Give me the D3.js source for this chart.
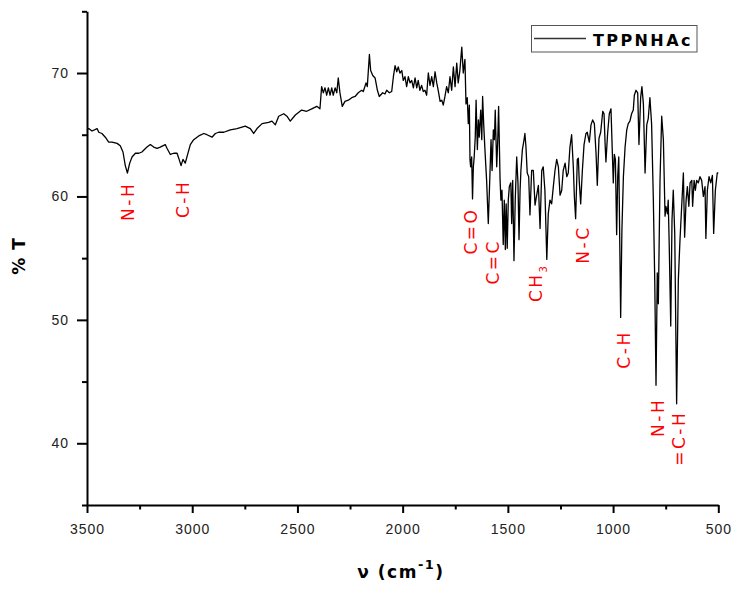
<!DOCTYPE html>
<html>
<head>
<meta charset="utf-8">
<script src="https://cdn.jsdelivr.net/npm/d3@7"></script>
<style>
  html, body { margin: 0; padding: 0; background: #fff; }
  svg { display: block; font-family: "DejaVu Sans", Verdana, sans-serif; }
</style>
</head>
<body>
<svg id="chart" width="735" height="589"></svg>
<script>
// FT-IR spectrum of TPPNHAc: wavenumber (cm-1) and transmittance (%T)
const wavenumber = [
  3500, 3492, 3476, 3452, 3444, 3429, 3413, 3397, 3381, 3357, 3342, 3329, 3318, 3308, 3297, 3286,
  3270, 3254, 3239, 3215, 3199, 3183, 3167, 3152, 3128, 3120, 3104, 3088, 3072, 3064, 3053, 3044,
  3033, 3025, 3009, 2993, 2969, 2945, 2930, 2906, 2890, 2874, 2850, 2819, 2787, 2748, 2724, 2708,
  2692, 2668, 2637, 2621, 2605, 2589, 2565, 2550, 2534, 2510, 2480, 2456, 2432, 2408, 2393, 2385,
  2377, 2369, 2361, 2353, 2345, 2337, 2330, 2321, 2313, 2306, 2298, 2287, 2274, 2258, 2242, 2226,
  2211, 2195, 2187, 2174, 2168, 2158, 2152, 2142, 2131, 2120, 2111, 2095, 2084, 2076, 2063, 2052,
  2044, 2036, 2028, 2021, 2013, 2004, 1997, 1989, 1981, 1973, 1965, 1957, 1949, 1941, 1933, 1926,
  1918, 1910, 1902, 1894, 1886, 1878, 1870, 1862, 1854, 1846, 1838, 1831, 1822, 1814, 1807, 1799,
  1791, 1783, 1775, 1767, 1759, 1751, 1743, 1736, 1728, 1719, 1712, 1704, 1699, 1693, 1688, 1683,
  1680, 1677, 1672, 1668, 1664, 1660, 1655, 1651, 1645, 1640, 1636, 1629, 1624, 1620, 1615, 1609,
  1601, 1593, 1585, 1580, 1575, 1569, 1564, 1560, 1553, 1548, 1544, 1537, 1533, 1528, 1522, 1517,
  1512, 1508, 1503, 1498, 1493, 1486, 1482, 1477, 1471, 1465, 1458, 1452, 1447, 1442, 1438, 1431,
  1423, 1419, 1414, 1408, 1401, 1395, 1387, 1379, 1371, 1363, 1355, 1347, 1339, 1332, 1324, 1315,
  1308, 1300, 1292, 1284, 1276, 1268, 1260, 1252, 1244, 1237, 1228, 1220, 1213, 1205, 1197, 1189,
  1184, 1178, 1170, 1165, 1161, 1154, 1146, 1138, 1129, 1123, 1113, 1105, 1097, 1089, 1081, 1075,
  1067, 1059, 1049, 1043, 1038, 1034, 1026, 1018, 1010, 1004, 999, 994, 989, 983, 978, 973,
  964, 958, 951, 943, 935, 928, 920, 912, 904, 899, 891, 883, 877, 869, 863, 856,
  848, 840, 833, 825, 817, 809, 802, 796, 790, 785, 777, 769, 761, 753, 749, 742,
  738, 733, 726, 720, 714, 707, 698, 690, 682, 674, 666, 660, 653, 647, 640, 634,
  626, 622, 615, 609, 603, 595, 587, 579, 571, 563, 559, 552, 544, 536, 528, 522,
  514, 505, 500
];
const transmittance = [
  65.4, 65.5, 65.3, 65.5, 65.2, 65.1, 64.8, 64.4, 64.4, 64.3, 64.1, 63.6, 62.5, 61.9, 62.7, 63.2,
  63.5, 63.5, 63.6, 64.0, 64.2, 64.0, 63.9, 64.0, 64.2, 63.9, 63.4, 63.5, 63.5, 63.1, 62.5, 63.0,
  62.7, 63.2, 64.2, 64.6, 64.9, 65.1, 65.0, 64.8, 65.1, 65.2, 65.2, 65.4, 65.5, 65.7, 65.5, 65.1,
  65.5, 65.9, 66.0, 66.1, 65.8, 66.5, 66.7, 66.5, 66.1, 66.6, 67.0, 66.9, 67.1, 67.3, 67.1, 68.9,
  68.4, 68.8, 68.2, 68.8, 68.2, 68.8, 68.2, 68.8, 68.4, 69.6, 68.4, 67.3, 67.7, 67.8, 68.0, 68.1,
  68.4, 68.6, 68.5, 69.2, 68.9, 71.5, 70.2, 69.8, 69.6, 68.6, 68.1, 68.4, 68.3, 68.6, 68.4, 68.5,
  69.7, 70.6, 70.1, 70.5, 70.0, 70.2, 69.4, 69.7, 68.9, 69.7, 69.2, 69.4, 68.8, 69.6, 68.8, 69.4,
  68.6, 69.0, 68.5, 68.6, 68.2, 70.0, 69.0, 69.7, 68.9, 70.1, 69.2, 68.6, 67.7, 67.8, 67.4, 68.1,
  68.9, 68.4, 69.7, 68.6, 70.5, 68.9, 70.8, 69.2, 70.2, 72.1, 70.0, 71.1, 67.5, 68.0, 65.9, 67.4,
  63.0, 62.4, 63.2, 59.8, 62.4, 63.2, 64.8, 67.8, 63.8, 66.2, 64.8, 67.0, 64.6, 68.1, 65.9, 63.8,
  61.3, 57.8, 61.9, 64.6, 62.1, 65.4, 64.6, 67.0, 62.4, 64.6, 67.3, 61.3, 59.7, 60.5, 56.1, 59.7,
  55.7, 59.4, 55.8, 59.7, 60.8, 61.1, 57.8, 61.3, 54.8, 59.7, 63.2, 61.1, 56.5, 60.5, 62.1, 63.8,
  64.6, 65.1, 64.0, 61.9, 61.6, 58.5, 62.1, 62.1, 59.3, 60.1, 60.9, 57.4, 62.1, 62.4, 60.5, 54.9,
  58.6, 59.7, 59.4, 60.8, 62.1, 63.0, 62.4, 60.1, 60.5, 62.1, 62.7, 61.6, 61.9, 64.0, 65.0, 62.4,
  60.0, 58.2, 63.0, 63.1, 61.3, 59.4, 62.1, 64.2, 65.1, 65.2, 64.4, 65.8, 66.2, 65.9, 63.5, 60.9,
  64.7, 65.2, 66.9, 66.7, 64.3, 62.8, 65.1, 66.7, 67.1, 63.8, 61.1, 63.4, 63.0, 56.9, 61.6, 63.2,
  50.2, 57.3, 61.6, 64.0, 65.4, 65.9, 66.1, 66.7, 67.0, 68.2, 68.6, 68.4, 64.2, 68.0, 68.9, 67.5,
  61.9, 65.8, 66.3, 68.0, 65.9, 60.0, 53.2, 44.7, 53.8, 51.3, 61.3, 66.5, 64.6, 58.4, 59.2, 58.6,
  59.7, 55.9, 49.5, 58.1, 60.5, 57.0, 43.2, 53.2, 56.5, 59.2, 61.9, 56.7, 59.7, 60.8, 59.2, 61.1,
  61.3, 59.2, 61.3, 60.5, 61.3, 61.1, 61.6, 61.3, 60.0, 60.8, 56.6, 60.5, 61.6, 61.1, 61.7, 57.0,
  60.5, 61.9, 61.9
];

// Axis ticks
const xMajorTicks = [3500, 3000, 2500, 2000, 1500, 1000, 500];
const xMinorTicks = [3250, 2750, 2250, 1750, 1250, 750];
const yMajorTicks = [40, 50, 60, 70];
const yMinorTicks = [35, 45, 55, 65, 75];

// Band assignments: text, subscript, wavenumber and %T of the label centre
const bandNames = ["N-H", "C-H", "C=O", "C=C", "CH", "N-C", "C-H", "N-H", "=C-H"];
const bandSubs = ["", "", "", "", "3", "", "", "", ""];
const bandWavenumbers = [3305, 3044, 1677, 1571, 1366, 1145, 948, 787, 687];
const bandLevels = [59.6, 59.8, 57.2, 54.7, 53.0, 56.1, 47.6, 42.1, 40.4];

const seriesName = "TPPNHAc";

const svg = d3.select("#chart");

const x = d3.scaleLinear().domain([3500, 500]).range([87, 718.3]);
const y = d3.scaleLinear().domain([35, 75]).range([505, 11.3]);

const tickFont = (g) => g.selectAll("text")
  .attr("fill", "#222")
  .style("font-size", "14px")
  .style("letter-spacing", "1px");

// Y axis
const yAxis = svg.append("g").attr("transform", `translate(${x(3500)},0)`);
yAxis.call(d3.axisLeft(y).tickValues(yMajorTicks).tickSize(10).tickSizeOuter(0).tickPadding(8)
    .tickFormat(d3.format("d")))
  .call(tickFont);
yAxis.append("g").call(d3.axisLeft(y).tickValues(yMinorTicks).tickSize(5).tickSizeOuter(0).tickFormat(""))
  .select(".domain").remove();

// X axis
const xAxis = svg.append("g").attr("transform", `translate(0,${y(35)})`);
xAxis.call(d3.axisBottom(x).tickValues(xMajorTicks).tickSize(8).tickSizeOuter(0).tickPadding(11)
    .tickFormat(d3.format("d")))
  .call(tickFont);
xAxis.append("g").call(d3.axisBottom(x).tickValues(xMinorTicks).tickSize(4.5).tickSizeOuter(0).tickFormat(""))
  .select(".domain").remove();

svg.selectAll(".domain").attr("stroke", "#000").attr("stroke-width", 2);
svg.selectAll(".tick line").attr("stroke", "#000").attr("stroke-width", 2);

// Spectrum trace
const pts = wavenumber.map((w, i) => [w, transmittance[i]]);
svg.append("path")
  .datum(pts)
  .attr("fill", "none")
  .attr("stroke", "#000")
  .attr("stroke-width", 1.3)
  .attr("stroke-linejoin", "round")
  .attr("d", d3.line().x(d => x(d[0])).y(d => y(d[1])));

// Band labels (rotated, red)
const labels = svg.append("g").attr("fill", "#ff0000")
  .style("font-size", "17px").style("letter-spacing", "2.5px");
bandNames.forEach((name, i) => {
  const cx = x(bandWavenumbers[i]);
  const cy = y(bandLevels[i]);
  const t = labels.append("text")
    .attr("transform", `translate(${cx},${cy}) rotate(-90)`)
    .attr("text-anchor", "middle")
    .attr("dy", "0.36em");
  t.append("tspan").text(name);
  if (bandSubs[i]) {
    t.append("tspan").attr("dy", "0.45em").style("font-size", "10px").text(bandSubs[i]);
  }
});

// Axis titles
svg.append("text")
  .attr("transform", `translate(25,256) rotate(-90)`)
  .attr("text-anchor", "middle")
  .style("font-size", "17px").style("font-weight", "bold").style("letter-spacing", "1px")
  .attr("fill", "#000")
  .text("% T");

const xt = svg.append("text")
  .attr("x", 401).attr("y", 578)
  .attr("text-anchor", "middle")
  .style("font-size", "17px").style("font-weight", "bold").style("letter-spacing", "1.5px")
  .attr("fill", "#000");
xt.append("tspan").text("ν (cm");
xt.append("tspan").attr("dy", -9).style("font-size", "13px").text("-1");
xt.append("tspan").attr("dy", 9).text(")");

// Legend
const lg = svg.append("g");
lg.append("rect").attr("x", 531.5).attr("y", 25.5).attr("width", 165.5).attr("height", 26.5)
  .attr("fill", "#fff").attr("stroke", "#555").attr("stroke-width", 1);
lg.append("line").attr("x1", 534).attr("x2", 586).attr("y1", 38.5).attr("y2", 38.5)
  .attr("stroke", "#333").attr("stroke-width", 1.3);
lg.append("text").attr("x", 593).attr("y", 45.5)
  .style("font-size", "16px").style("font-weight", "bold").style("letter-spacing", "2.4px")
  .attr("fill", "#000")
  .text(seriesName);
</script>
</body>
</html>
